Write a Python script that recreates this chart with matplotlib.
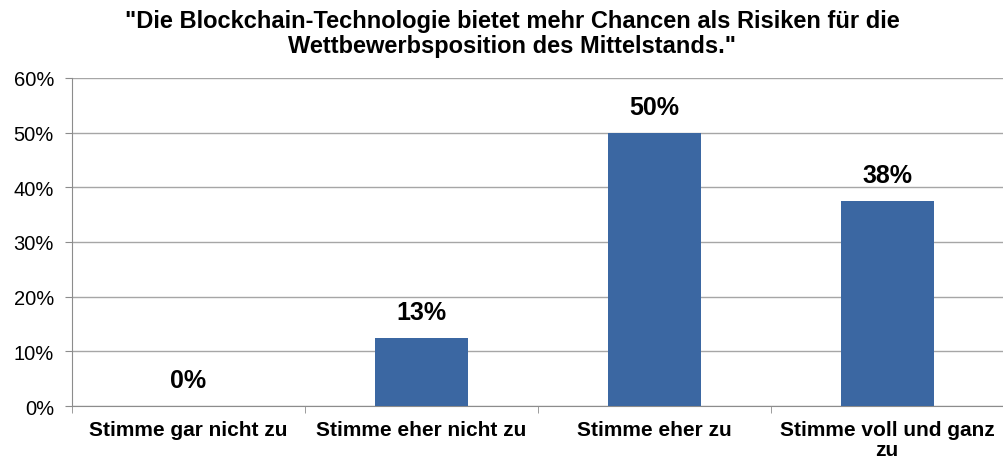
import matplotlib.pyplot as plt
from matplotlib.ticker import PercentFormatter

plt.rcParams['font.family'] = ['Liberation Sans', 'DejaVu Sans']

categories = ['Stimme gar nicht zu', 'Stimme eher nicht zu', 'Stimme eher zu', 'Stimme voll und ganz\nzu']
values = [0, 12.5, 50, 37.5]
labels = ['0%', '13%', '50%', '38%']

fig = plt.figure(figsize=(10.04, 4.64), dpi=100)
ax = fig.add_axes([0.0717, 0.1228, 0.928, 0.707])

x = range(len(categories))
bars = ax.bar(x, values, width=0.4, color='#3B67A2', zorder=3)

for b, lab in zip(bars, labels):
    ax.annotate(lab, (b.get_x() + b.get_width() / 2, b.get_height()),
                xytext=(0, 10), textcoords='offset points',
                ha='center', va='bottom', fontsize=18, fontweight='bold')

ax.set_xlim(-0.5, len(categories) - 0.5)
ax.set_ylim(0, 60)
ax.set_yticks(range(0, 61, 10))
ax.yaxis.set_major_formatter(PercentFormatter(decimals=0))
ax.grid(axis='y', color='#A6A6A6', linewidth=1, zorder=0)

# category labels centred, ticks at the category boundaries
ax.set_xticks(list(x))
ax.set_xticklabels(categories, fontsize=15, fontweight='bold', linespacing=1.1)
ax.tick_params(axis='x', which='major', length=0, pad=10)
ax.set_xticks([i - 0.5 for i in range(len(categories) + 1)], minor=True)
ax.tick_params(axis='x', which='minor', length=5, color='#8C8C8C')
ax.tick_params(axis='y', length=5, color='#8C8C8C', labelsize=14.5, pad=8)

for s in ['top', 'right']:
    ax.spines[s].set_visible(False)
for s in ['left', 'bottom']:
    ax.spines[s].set_color('#8C8C8C')

fig.suptitle('"Die Blockchain-Technologie bietet mehr Chancen als Risiken für die\nWettbewerbsposition des Mittelstands."',
             x=0.51, y=0.978, fontsize=17, fontweight='bold', linespacing=1.1)

fig.savefig('out.png', dpi=100)
